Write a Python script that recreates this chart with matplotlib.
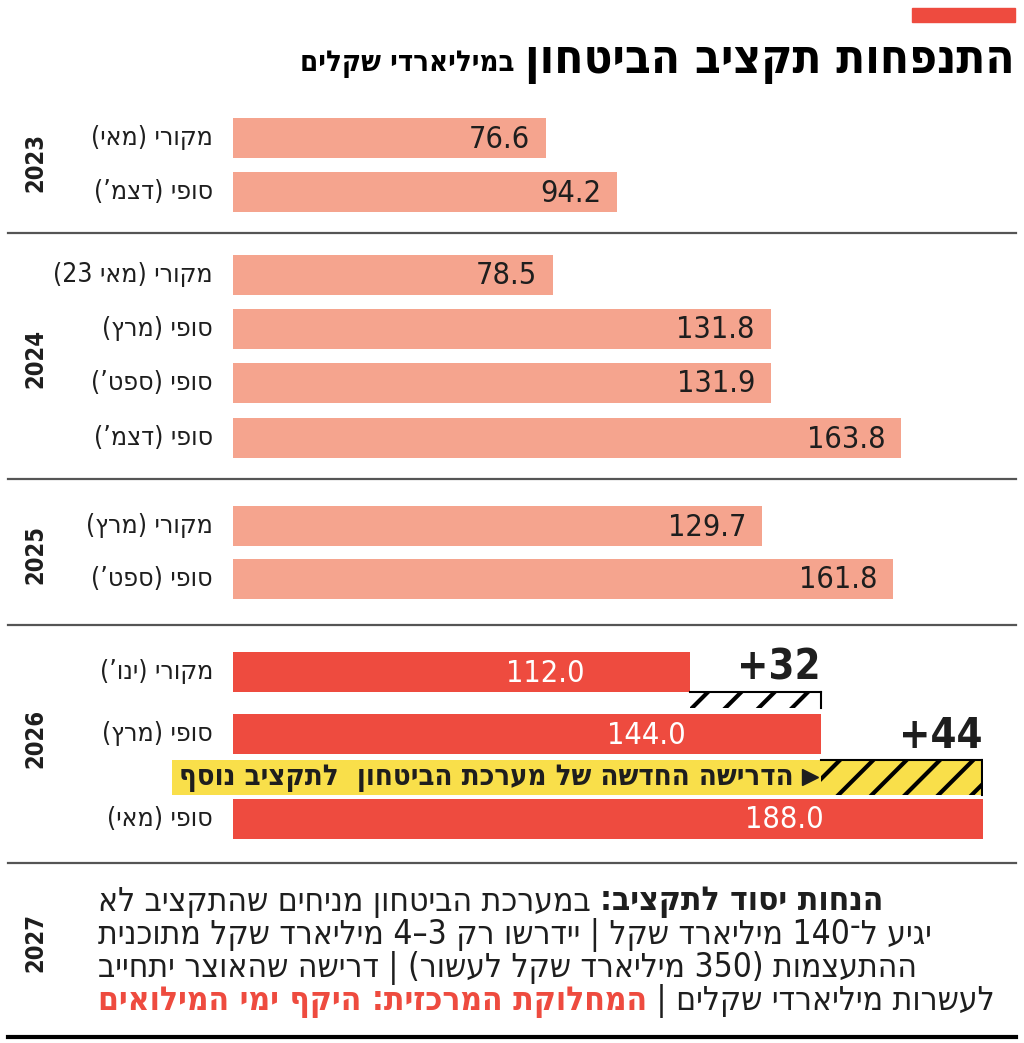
import re
import matplotlib
matplotlib.use('Agg')
import matplotlib.pyplot as plt
from matplotlib.lines import Line2D
from matplotlib.patches import Rectangle

plt.rcParams['hatch.linewidth'] = 3
plt.rcParams['font.family'] = ['DejaVu Sans']
plt.rcParams['font.stretch'] = 'condensed'

# data (billions of shekels)
years = ['2023', '2024', '2025', '2026']
labels_2023 = ['מקורי (מאי)', 'סופי (דצמ’)']
values_2023 = [76.6, 94.2]
labels_2024 = ['מקורי (מאי 23)', 'סופי (מרץ)', 'סופי (ספט’)', 'סופי (דצמ’)']
values_2024 = [78.5, 131.8, 131.9, 163.8]
labels_2025 = ['מקורי (מרץ)', 'סופי (ספט’)']
values_2025 = [129.7, 161.8]
labels_2026 = ['מקורי (ינו’)', 'סופי (מרץ)', 'סופי (מאי)']
values_2026 = [112.0, 144.0, 188.0]
increments_2026 = [32, 44]

title = 'התנפחות תקציב הביטחון'
subtitle = 'במיליארדי שקלים'
banner = 'הדרישה החדשה של מערכת הביטחון  לתקציב נוסף'
note_year = '2027'
note_lines = [
    [('הנחות יסוד לתקציב:', 'bold', 'k'), (' במערכת הביטחון מניחים שהתקציב לא', 'normal', 'k')],
    [('יגיע ל־140 מיליארד שקל | יידרשו רק 3–4 מיליארד שקל מתוכנית', 'normal', 'k')],
    [('ההתעצמות (350 מיליארד שקל לעשור) | דרישה שהאוצר יתחייב', 'normal', 'k')],
    [('לעשרות מיליארדי שקלים | ', 'normal', 'k'), ('המחלוקת המרכזית: היקף ימי המילואים', 'bold', 'red')],
]

PINK = '#f5a48e'
RED = '#ee4b3f'
YELLOW = '#f9df4a'
DARK = '#1e1e1e'


def rtl(s):
    # crude logical -> visual order for hebrew text
    v = s[::-1]
    v = re.sub(r'[0-9][0-9.]*', lambda m: m.group(0)[::-1], v)
    return v.translate(str.maketrans('()', ')('))


W, H = 1024, 1043
fig = plt.figure(figsize=(W / 100, H / 100), dpi=100)
renderer = fig.canvas.get_renderer()


def fx(px):
    return px / W


def fy(py):
    return 1 - py / H


scale = 4.08  # px per billion
ax = fig.add_axes([fx(233), 0, 750 / W, 1])
ax.set_xlim(0, 750 / scale)
ax.set_ylim(H, 0)
ax.axis('off')
xmax = ax.get_xlim()[1]

# row centres in px
rows = [
    (years[0], labels_2023, values_2023, [138, 192], 163),
    (years[1], labels_2024, values_2024, [275, 329, 383, 438], 358),
    (years[2], labels_2025, values_2025, [526, 579], 554),
    (years[3], labels_2026, values_2026, [672, 734, 819], 738),
]

for year, labs, vals, ys, yc in rows:
    fig.text(fx(35), fy(yc), year, rotation=90, ha='center', va='center',
             fontsize=17, fontweight='bold', color=DARK)
    red = year == '2026'
    ax.barh(ys, vals, height=40, color=RED if red else PINK)
    for lab, v, y in zip(labs, vals, ys):
        fig.text(fx(213), fy(y), rtl(lab), ha='right', va='center',
                 fontsize=19, color=DARK)
        if red:
            ax.text(0.77 * v, y + 1, f'{v:.1f}', ha='right', va='center',
                    fontsize=22, color='white')
        else:
            ax.text(v - 16 / scale, y + 1, f'{v:.1f}', ha='right', va='center',
                    fontsize=22, color=DARK)

# +32 hatched strip
v0, v1, v2 = values_2026
ax.barh(700, increments_2026[0], left=v0, height=16, facecolor='white',
        edgecolor='black', hatch='/', linewidth=0)
ax.plot([v0, v0 + increments_2026[0]], [692, 692], color='black', lw=1.5)
ax.plot([v0 + increments_2026[0]] * 2, [692, 708], color='black', lw=1.5)
ax.text(v0 + increments_2026[0], 668, f'+{increments_2026[0]}', ha='right',
        va='center', fontsize=30, fontweight='bold', color=DARK)

# yellow banner + 44 hatched part
left_off = (233 - 172) / scale
ax.barh(777, v1 + left_off, left=-left_off, height=35, color=YELLOW, clip_on=False)
ax.barh(777, increments_2026[1], left=v1, height=35, facecolor=YELLOW,
        edgecolor='black', hatch='/', linewidth=0)
end = min(v1 + increments_2026[1], xmax) - 0.2
ax.plot([v1, end], [760, 760], color='black', lw=1.5)
ax.plot([end, end], [760, 795], color='black', lw=1.5)
ax.plot([v1 - 2.6], [777], marker='>', markersize=11, color=DARK)
ax.text(v1 - 6.5, 778, rtl(banner), ha='right', va='center', fontsize=21,
        fontweight='bold', color=DARK)
ax.text(end, 736, f'+{increments_2026[1]}', ha='right', va='center',
        fontsize=30, fontweight='bold', color=DARK, clip_on=False)

# title block
fig.add_artist(Rectangle((fx(912), fy(22)), fx(103), 14 / H, color=RED))
t = fig.text(fx(1015), fy(62), rtl(title), ha='right', va='center', fontsize=34,
             fontweight='bold', color='black')
tb = t.get_window_extent(renderer)
fig.text(tb.x0 / W - fx(11), fy(64), rtl(subtitle), ha='right', va='center',
         fontsize=21, fontweight='bold', color='black')

# separators
for y in [233, 479, 625, 863]:
    fig.add_artist(Line2D([fx(8), fx(1016)], [fy(y), fy(y)], color='#555555', lw=1.6))
fig.add_artist(Line2D([fx(8), fx(1016)], [fy(1037), fy(1037)], color='black', lw=3))

# 2027 note
fig.text(fx(35), fy(943), note_year, rotation=90, ha='center', va='center',
         fontsize=17, fontweight='bold', color=DARK)
for i, line in enumerate(note_lines):
    y = fy(902 + i * 33)
    x = fx(98)
    for txt, wt, col in reversed(line):
        tt = fig.text(x, y, rtl(txt), ha='left', va='center', fontsize=24,
                      fontweight=wt, color=RED if col == 'red' else DARK)
        bb = tt.get_window_extent(renderer)
        x = bb.x1 / W

fig.savefig('out.png', dpi=100)
